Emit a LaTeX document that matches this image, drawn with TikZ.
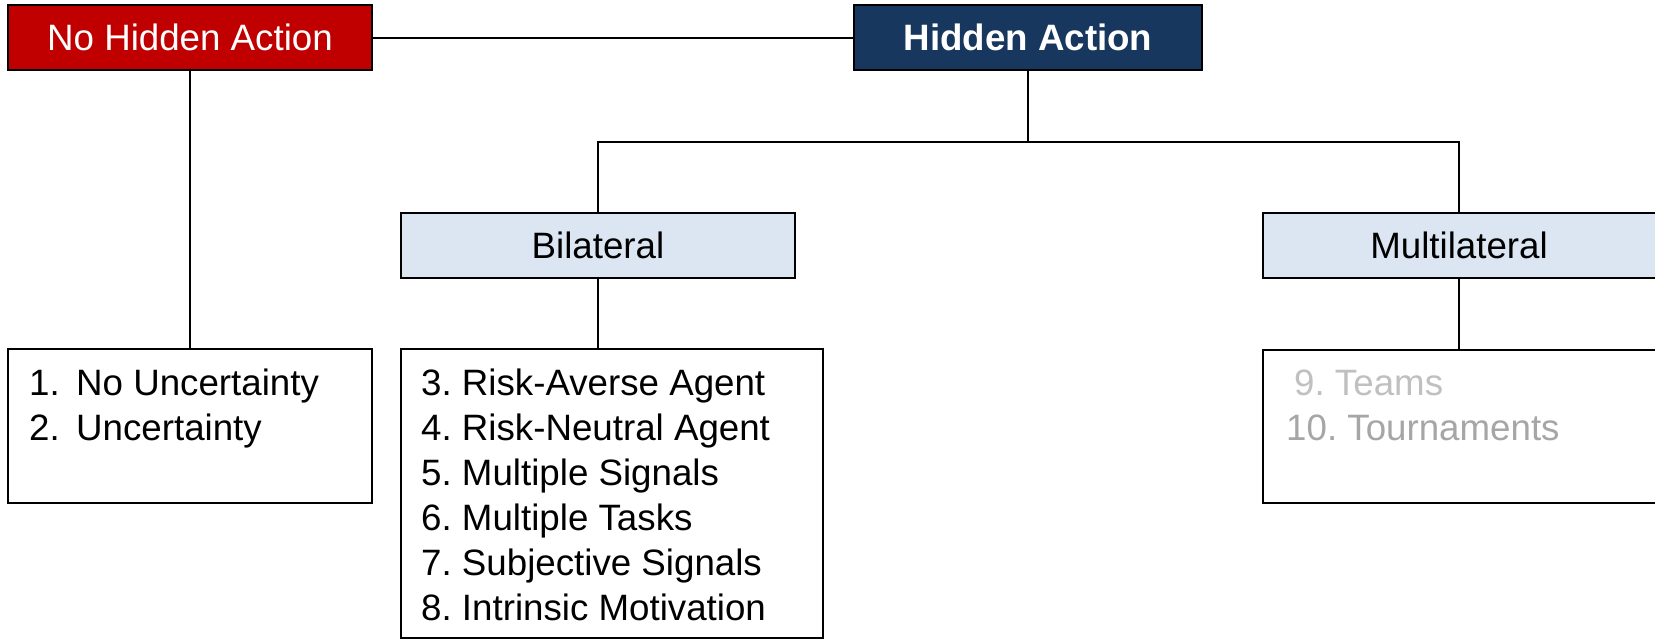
\documentclass[tikz,border=0pt]{standalone}
\usepackage{fontspec}
\setmainfont{Liberation Sans}
\definecolor{hred}{HTML}{C00000}
\definecolor{hnavy}{HTML}{17375E}
\definecolor{hlight}{HTML}{DCE6F2}
\definecolor{gray1}{HTML}{C0C0C0}
\definecolor{gray2}{HTML}{A6A6A6}
\begin{document}
\begin{tikzpicture}[x=1pt,y=-1pt,
  every node/.style={font=\fontsize{36.7}{44}\selectfont\frenchspacing},
  box/.style={draw=black, line width=2pt, inner sep=0pt, outer sep=0pt},
  head/.style={box, minimum height=65pt, text height=26.3pt, text depth=0pt},
  listbox/.style={box, fill=white},
  item/.style={anchor=base west, inner sep=0pt},
  conn/.style={line width=2pt, draw=black}
]
\useasboundingbox (0,0) rectangle (1655,640);
\clip (0,0) rectangle (1655,640);
\fill[white] (0,0) rectangle (1655,640);

% header boxes
\node[head, fill=hred, text=white, minimum width=364pt] (nha) at (190,37.5) {No Hidden Action};
\node[head, fill=hnavy, text=white, minimum width=348pt, font=\fontsize{36.7}{44}\selectfont\bfseries] (ha) at (1028,37.5) {Hidden Action};
\node[head, fill=hlight, minimum width=394pt] (bil) at (598,245.5) {Bilateral};
\node[head, fill=hlight, minimum width=394pt, anchor=west] (mul) at (1263,245.5) {\hspace*{0pt}};
\node[inner sep=0pt, text height=26.3pt, text depth=0pt] (multxt) at (1459,245.5) {Multilateral};

% list boxes
\node[listbox, minimum width=364pt, minimum height=154pt, anchor=north west] (nhal) at (8,349) {};
\node[listbox, minimum width=422pt, minimum height=289pt, anchor=north west] (bill) at (401,349) {};
\node[listbox, minimum width=400pt, minimum height=153pt, anchor=north west] (mull) at (1263,350) {};

% connectors
\coordinate (hub) at (1029,142);
\draw[conn] (nha.east) -- (ha.west);
\draw[conn] (nha.south) -- (nhal.north);
\draw[conn] (ha.south) -- (ha.south |- hub);
\draw[conn] (bil.north) |- (hub) -| (multxt.north |- mul.north);
\draw[conn] (bil.south) -- (bil.south |- bill.north);
\draw[conn] (multxt.north |- mul.south) -- (multxt.north |- mull.north);

% list texts
\node[item] (n1) at (29,395) {1.};
\node[item] (t1) at (76,395) {No Uncertainty};
\node[item] (n2) at (29,440) {2.};
\node[item] (t2) at (76,440) {Uncertainty};

\foreach \i/\txt in {0/3. Risk-Averse Agent, 1/4. Risk-Neutral Agent, 2/5. Multiple Signals, 3/6. Multiple Tasks, 4/7. Subjective Signals, 5/8. Intrinsic Motivation}
  \node[item] (b\i) at (421,395+45*\i) {\txt};

\node[item, text=gray1] (m1) at (1294,395) {9. Teams};
\node[item, text=gray2] (m2) at (1286,440) {10. Tournaments};
\end{tikzpicture}
\end{document}
